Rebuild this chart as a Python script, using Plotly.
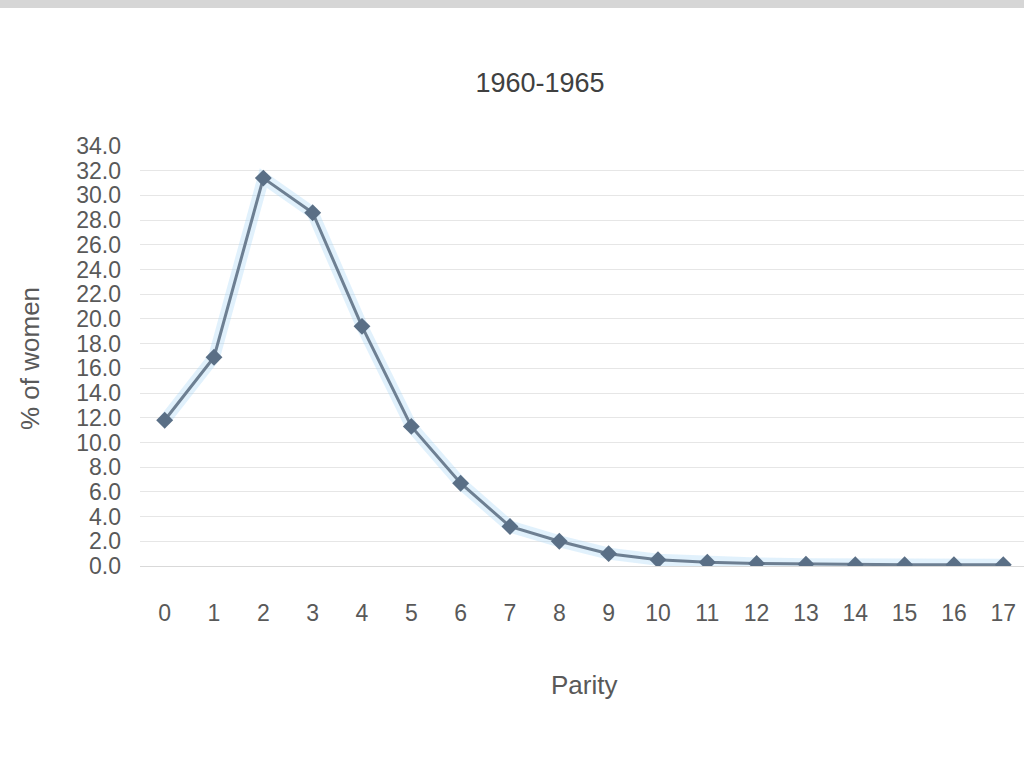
"""Share of women by parity, line chart."""
import plotly.graph_objects as go

TITLE = "1960-1965"
X_TITLE = "Parity"
Y_TITLE = "% of women"

PARITY = [str(i) for i in range(18)]
PCT_WOMEN = [11.8, 16.9, 31.4, 28.6, 19.4, 11.3, 6.7, 3.2, 2.0, 1.0,
             0.5, 0.3, 0.2, 0.15, 0.1, 0.1, 0.1, 0.1]
Y_TICKS = [i * 2 for i in range(18)]

FONT = "Liberation Sans"
TEXT = "#595959"

# plot area in pixels: x 140..1024, y 146..566
L, T, B = 140, 146, 566
W, H = 1024 - L, B - T

fig = go.Figure()

# soft glow under the line (excel shadow look)
fig.add_trace(go.Scatter(
    x=PARITY, y=PCT_WOMEN,
    mode="lines",
    line=dict(color="rgba(170,215,245,0.35)", width=12),
    hoverinfo="skip",
))
fig.add_trace(go.Scatter(
    x=PARITY, y=PCT_WOMEN,
    mode="lines+markers",
    line=dict(color="#6d7f92", width=3),
    marker=dict(symbol="diamond", size=13, color="#5a6f86"),
))

fig.update_layout(
    width=1024, height=768,
    margin=dict(l=L, r=0, t=T, b=768 - B),
    paper_bgcolor="white", plot_bgcolor="white",
    showlegend=False,
    font=dict(family=FONT, color=TEXT, size=22),
    title=dict(text=TITLE, x=540 / 1024, xref="container", xanchor="center",
               y=1 - 83 / 768, yref="container", yanchor="middle",
               font=dict(size=27, color="#404040")),
    xaxis=dict(
        type="category",
        range=[-0.5, 17.42],
        showgrid=False,
        showline=True, linecolor="#d9d9d9", linewidth=1,
        ticks="", ticklabelstandoff=26,
        tickfont=dict(size=23, color=TEXT),
    ),
    yaxis=dict(
        range=[0, 34],
        tickvals=Y_TICKS,
        tickformat=".1f",
        showgrid=True, gridcolor="#e6e6e6", gridwidth=1,
        zeroline=False, showline=False,
        ticks="", ticklabelstandoff=18,
        tickfont=dict(size=23, color=TEXT),
    ),
    annotations=[
        dict(text=X_TITLE, x=(584 - L) / W, y=-(685 - B) / H,
             xref="paper", yref="paper", xanchor="center", yanchor="middle",
             showarrow=False, font=dict(size=26, color=TEXT)),
        dict(text=Y_TITLE, textangle=-90, x=(30 - L) / W, y=(B - 359) / H,
             xref="paper", yref="paper", xanchor="center", yanchor="middle",
             showarrow=False, font=dict(size=26, color=TEXT)),
    ],
)

# grey strip along the top edge of the picture
fig.add_shape(type="rect", xref="paper", yref="paper",
              x0=-L / W, x1=1.0, y0=(B - 8) / H, y1=B / H,
              fillcolor="#d6d6d6", line=dict(width=0), layer="below")

fig.write_html("out.html", config={"displayModeBar": False},
               post_script="document.body.style.margin='0';")
